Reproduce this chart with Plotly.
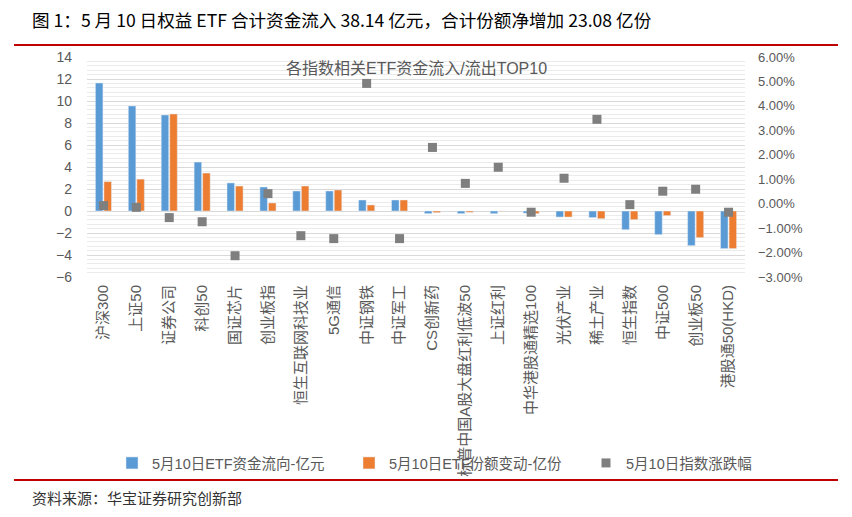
import plotly.graph_objects as go

categories = ["沪深300", "上证50", "证券公司", "科创50", "国证芯片", "创业板指", "恒生互联网科技业",
              "5G通信", "中证钢铁", "中证军工", "CS创新药", "标普中国A股大盘红利低波50", "上证红利",
              "中华港股通精选100", "光伏产业", "稀土产业", "恒生指数", "中证500", "创业板50", "港股通50(HKD)"]
flow = [11.64, 9.55, 8.73, 4.45, 2.55, 2.18, 1.82, 1.82, 1.0, 1.0,
        -0.24, -0.24, -0.24, -0.2, -0.55, -0.6, -1.7, -2.15, -3.15, -3.42]
shares = [2.67, 2.9, 8.82, 3.45, 2.27, 0.73, 2.27, 1.91, 0.55, 1.0,
          -0.15, -0.12, -0.03, -0.24, -0.55, -0.7, -0.79, -0.42, -2.42, -3.42]
pct = [-0.08, -0.15, -0.57, -0.74, -2.13, 0.41, -1.31, -1.43, 4.92, -1.43,
       2.30, 0.83, 1.49, -0.35, 1.04, 3.45, -0.04, 0.51, 0.59, -0.35]
names = ["5月10日ETF资金流向-亿元", "5月10日ETF份额变动-亿份", "5月10日指数涨跌幅"]
left_ticks = list(range(-6, 15, 2))
right_ticks = [-3, -2, -1, 0, 1, 2, 3, 4, 5, 6]

FONT = "Liberation Sans, Arial, Noto Sans CJK SC"
GREY = "#595959"

# page offset (browser body margin) compensation
OFF = 8
PL, PR, PT, PB = 87 - OFF, 745 - OFF, 57 - OFF, 277 - OFF
W, H = PR - PL, PB - PT


def X(px):
    return (px - OFF - PL) / W


def Y(py):
    return (PB - (py - OFF)) / H


fig = go.Figure()
fig.add_trace(go.Bar(x=categories, y=flow, name=names[0], marker_color="#5b9bd5"))
fig.add_trace(go.Bar(x=categories, y=shares, name=names[1], marker_color="#ed7d31"))
fig.add_trace(go.Scatter(x=categories, y=[p / 100 for p in pct], name=names[2], mode="markers",
                         marker=dict(symbol="square", size=9, color="#7f7f7f"), yaxis="y2"))

fig.update_layout(
    width=852, height=517,
    margin=dict(l=PL, r=852 - PR, t=PT, b=517 - PB),
    paper_bgcolor="white", plot_bgcolor="white",
    font=dict(family=FONT, color=GREY, size=13),
    barmode="group", bargap=0.48, bargroupgap=0.12,
    showlegend=True,
    legend=dict(orientation="h", x=X(823), y=Y(463), xanchor="right", yanchor="middle",
                font=dict(size=14.5, color=GREY), entrywidth=192, itemwidth=30,
                bgcolor="rgba(0,0,0,0)", traceorder="normal"),
    xaxis=dict(type="category", range=[-0.5, len(categories) - 0.5], tickangle=-90,
               showgrid=False, showline=False, ticks="",
               tickfont=dict(size=15, color=GREY), automargin=False, ticklabelstandoff=4),
    yaxis=dict(range=[-6, 14], tickvals=left_ticks, showgrid=True, gridcolor="#d9d9d9", gridwidth=1,
               minor=dict(dtick=0.4, showgrid=True, gridcolor="#ebebeb", gridwidth=1),
               zeroline=False, showline=False, tickfont=dict(size=14, color=GREY),
               automargin=False, ticklabelstandoff=14),
    yaxis2=dict(range=[-0.03, 0.06], tickvals=[v / 100 for v in right_ticks], tickformat=".2%",
                overlaying="y", side="right", showgrid=False, zeroline=False, showline=False,
                tickfont=dict(size=13, color=GREY), automargin=False, ticklabelstandoff=12),
)

fig.add_annotation(text="各指数相关ETF资金流入/流出TOP10", xref="paper", yref="paper",
                   x=X(416), y=Y(68), showarrow=False,
                   font=dict(size=16, color=GREY), xanchor="center", yanchor="middle")
fig.add_annotation(text="图 1：5 月 10 日权益 ETF 合计资金流入 38.14 亿元，合计份额净增加 23.08 亿份",
                   xref="paper", yref="paper", x=X(30), y=Y(20),
                   showarrow=False, xanchor="left", yanchor="middle",
                   font=dict(size=17.6, color="#000000", family="Noto Sans CJK SC"))
fig.add_annotation(text="资料来源：华宝证券研究创新部",
                   xref="paper", yref="paper", x=X(30), y=Y(497),
                   showarrow=False, xanchor="left", yanchor="middle",
                   font=dict(size=15, color="#333333", family="Noto Sans CJK SC"))
for yy in (45, 480):
    fig.add_shape(type="line", xref="paper", yref="paper",
                  x0=X(14), x1=X(838), y0=Y(yy), y1=Y(yy),
                  line=dict(color="#c00000", width=2))

fig.write_html("out.html")
